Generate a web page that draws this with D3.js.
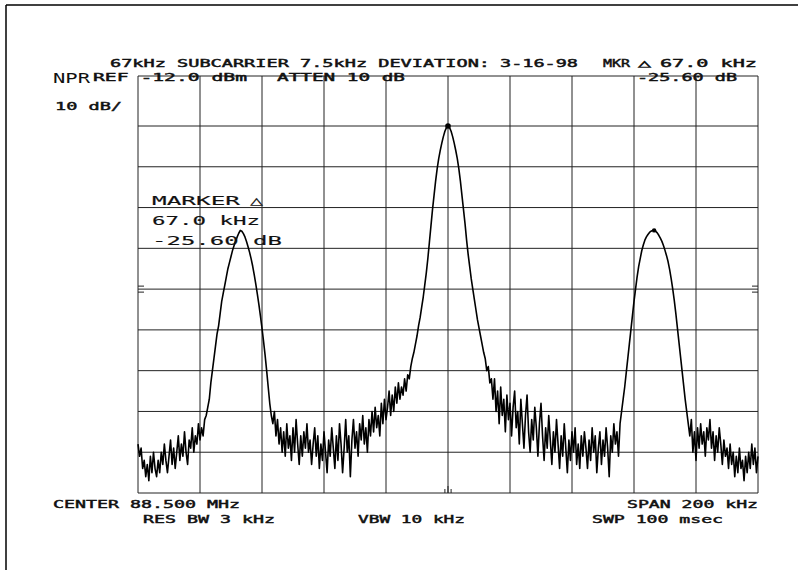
<!DOCTYPE html>
<html>
<head>
<meta charset="utf-8">
<script src="https://cdn.jsdelivr.net/npm/d3@7"></script>
<style>
  html, body { margin: 0; padding: 0; background: #ffffff; }
  svg { display: block; }
  text { font-family: "DejaVu Sans Mono", monospace; fill: #111; }
</style>
</head>
<body>
<div id="chart"></div>
<script>
// Sweep settings (kHz offset from 88.500 MHz, dBm)
const stepKHz = 0.5;
const freqTicks = [-100, -80, -60, -40, -20, 0, 20, 40, 60, 80, 100];
const levelTicks = [-20, -30, -40, -50, -60, -70, -80, -90, -100, -110];

// Trace in pieces, each with its start frequency
const lowEdgeNoise = [
    -98, -101, -99, -104, -102, -106, -103, -107, -101, -105,
    -100, -104, -106, -102, -105, -100, -103, -98, -102, -105,
    -101, -97, -103, -99, -104, -100, -96, -102, -98, -101,
    -95, -100, -103, -97, -99, -94, -100, -96, -98, -93,
    -97, -94, -96, -92
];
const lowerSubcarrier = [
    -91, -89, -87, -83, -80, -77, -74, -71, -69, -66,
    -63, -61, -59, -57, -55, -53.5, -52, -50.5, -49.3, -48.2,
    -47.2, -46.3, -45.6, -45.8, -46.4, -47.2, -48.3, -49.6, -51, -52.6,
    -54.4, -56.5, -58.8, -61.2, -63.8, -66.6, -69.6, -72.8, -76.2, -80,
    -84, -88, -91
];
const lowerGapNoise = [
    -93, -90, -96, -92, -98, -94, -100, -95, -101, -93,
    -99, -96, -102, -94, -100, -92, -98, -103, -96, -101,
    -95, -99, -93, -100, -97, -103, -98, -94, -101, -96,
    -104, -98, -102, -95, -100, -105, -97, -101, -94, -99,
    -104, -96, -102, -93, -98, -105, -99, -92, -100, -96,
    -106, -97, -92, -99, -95, -101, -93, -97, -91, -98,
    -94, -100, -92, -96, -90, -95, -89, -94, -91, -96,
    -88, -93, -87, -92, -89, -85, -91, -86, -90, -84,
    -88, -83, -87
];
const mainCarrier = [
    -84, -86, -82, -85, -81, -82, -79, -77, -75.5, -73.5,
    -71.5, -69, -67, -64.5, -62, -59, -56, -52.5, -48.5, -44.5,
    -40.5, -37, -33.5, -30.5, -28, -26, -24.2, -22.6, -21.3, -20.4,
    -20, -20.4, -21.3, -22.6, -24.2, -26, -28, -30.5, -33.5, -37,
    -40.5, -44, -48, -51.5, -54.5, -57.5, -60, -62.5, -65, -67.5,
    -69.5, -71.5, -73.5, -75.5, -77, -80, -79, -83, -82
];
const upperGapNoise = [
    -87, -82, -90, -85, -93, -84, -91, -87, -95, -86,
    -92, -88, -96, -89, -85, -94, -90, -98, -87, -93,
    -99, -91, -86, -95, -100, -92, -97, -89, -94, -101,
    -93, -88, -96, -102, -94, -99, -91, -97, -103, -95,
    -100, -92, -98, -104, -96, -101, -93, -99, -105, -97,
    -102, -95, -100, -94, -103, -98, -104, -96, -101, -95,
    -99, -104, -97, -102, -94, -100, -96, -105, -99, -95,
    -103, -97, -101, -94, -99, -106, -96, -100, -93, -98,
    -95, -101, -93
];
const upperSubcarrier = [
    -90, -87, -84, -80.5, -77, -73.5, -70, -66.5, -63, -60,
    -57, -54.5, -52.5, -50.6, -49.2, -48, -47.2, -46.6, -46.1, -45.8,
    -45.6, -45.6, -45.8, -46.2, -46.8, -47.5, -48.3, -49.3, -50.5, -51.8,
    -53.3, -55.2, -57.5, -60, -62.8, -66, -69.5, -73, -76.5, -80,
    -83.5, -87, -90, -93
];
const highEdgeNoise = [
    -96, -92, -100, -95, -102, -94, -99, -93, -98, -95,
    -101, -94, -97, -92, -99, -95, -102, -96, -100, -94,
    -98, -103, -97, -101, -99, -104, -98, -103, -100, -106,
    -101, -105, -99, -104, -102, -107, -101, -105, -100, -104,
    -98, -103, -99, -105, -101
];
const traceSegments = [
    { startKHz: -100, values: lowEdgeNoise },
    { startKHz: -78, values: lowerSubcarrier },
    { startKHz: -56.5, values: lowerGapNoise },
    { startKHz: -15, values: mainCarrier },
    { startKHz: 14.5, values: upperGapNoise },
    { startKHz: 56, values: upperSubcarrier },
    { startKHz: 78, values: highEdgeNoise }
];
const markerFreqs = [0, 66.5];
const markerLevels = [-20, -45.6];

const width = 798, height = 570;
const plot = { left: 138, right: 758, top: 76, bottom: 493 };

const svg = d3.select('#chart').append('svg')
    .attr('width', width)
    .attr('height', height);

const x = d3.scaleLinear().domain([-100, 100]).range([plot.left, plot.right]);
const y = d3.scaleLinear().domain([-110, -20]).range([plot.bottom, 126]);

// page frame (scan edge)
svg.append('line')
    .attr('x1', 6).attr('y1', 5).attr('x2', width).attr('y2', 5)
    .attr('stroke', '#000').attr('stroke-width', 1.5);
svg.append('line')
    .attr('x1', 6).attr('y1', 5).attr('x2', 6).attr('y2', height)
    .attr('stroke', '#000').attr('stroke-width', 1.5);

// graticule
const grid = svg.append('g').attr('stroke', '#222').attr('stroke-width', 1);
grid.selectAll('.vline').data(freqTicks).enter().append('line')
    .attr('x1', d => x(d)).attr('x2', d => x(d))
    .attr('y1', plot.top).attr('y2', plot.bottom);
grid.selectAll('.hline').data(levelTicks).enter().append('line')
    .attr('x1', plot.left).attr('x2', plot.right)
    .attr('y1', d => y(d)).attr('y2', d => y(d));
grid.append('line')
    .attr('x1', plot.left).attr('x2', plot.right)
    .attr('y1', plot.top).attr('y2', plot.top);

// small edge marks at the middle line and bottom centre
[-60].forEach(lv => {
    [-3, 3].forEach(dy => {
        grid.append('line').attr('x1', plot.left).attr('x2', plot.left + 6)
            .attr('y1', y(lv) + dy).attr('y2', y(lv) + dy);
        grid.append('line').attr('x1', plot.right - 6).attr('x2', plot.right)
            .attr('y1', y(lv) + dy).attr('y2', y(lv) + dy);
    });
});
[-1, 0, 1].forEach(dk => {
    grid.append('line')
        .attr('x1', x(dk)).attr('x2', x(dk))
        .attr('y1', plot.bottom - (dk === 0 ? 7 : 4)).attr('y2', plot.bottom);
});

// trace
const points = [];
traceSegments.forEach(seg => {
    seg.values.forEach((v, i) => points.push([seg.startKHz + i * stepKHz, v]));
});
const line = d3.line().x(d => x(d[0])).y(d => y(d[1]));
svg.append('path')
    .datum(points)
    .attr('d', line)
    .attr('fill', 'none')
    .attr('stroke', '#000')
    .attr('stroke-width', 1.6)
    .attr('stroke-linejoin', 'round');

// markers
svg.selectAll('.mkr').data(markerFreqs).enter().append('circle')
    .attr('cx', d => x(d))
    .attr('cy', (d, i) => y(markerLevels[i]))
    .attr('r', (d, i) => i === 0 ? 2.8 : 2.2)
    .attr('fill', '#000');

// annotation text, each piece placed and stretched to its printed width
const labels = [
    { t: '67kHz SUBCARRIER 7.5kHz DEVIATION:', x0: 110, x1: 490, y: 67 },
    { t: '3-16-98', x0: 500, x1: 578, y: 67 },
    { t: 'MKR', x0: 603, x1: 630, y: 67 },
    { t: '△', x0: 638, x1: 651, y: 67 },
    { t: '67.0 kHz', x0: 660, x1: 757, y: 67 },
    { t: 'REF -12.0 dBm', x0: 93, x1: 247, y: 81 },
    { t: 'ATTEN 10 dB', x0: 277, x1: 405, y: 81 },
    { t: '-25.60 dB', x0: 637, x1: 737, y: 81 },
    { t: '10 dB/', x0: 55, x1: 122, y: 110 },
    { t: 'MARKER', x0: 152, x1: 240, y: 205 },
    { t: '△', x0: 250, x1: 263, y: 205 },
    { t: '67.0 kHz', x0: 152, x1: 260, y: 225 },
    { t: '-25.60 dB', x0: 152, x1: 282, y: 245 },
    { t: 'CENTER 88.500 MHz', x0: 53, x1: 240, y: 508 },
    { t: 'RES BW 3 kHz', x0: 143, x1: 275, y: 523 },
    { t: 'VBW 10 kHz', x0: 358, x1: 465, y: 523 },
    { t: 'SPAN 200 kHz', x0: 627, x1: 758, y: 508 },
    { t: 'SWP 100 msec', x0: 592, x1: 723, y: 523 }
];
const isBox = d => d.y > 180 && d.y < 250;
svg.selectAll('.lbl').data(labels).enter().append('text')
    .attr('x', d => d.x0)
    .attr('y', d => d.y)
    .attr('font-size', d => isBox(d) ? '13px' : '11px')
    .attr('stroke', '#111')
    .attr('stroke-width', d => isBox(d) ? 0.15 : 0.45)
    .attr('textLength', d => d.x1 - d.x0)
    .attr('lengthAdjust', 'spacingAndGlyphs')
    .text(d => d.t);

svg.append('text')
    .attr('x', 53).attr('y', 83)
    .attr('font-family', '"DejaVu Sans", sans-serif')
    .attr('font-size', '14px')
    .attr('textLength', 37)
    .attr('lengthAdjust', 'spacingAndGlyphs')
    .text('NPR');
</script>
</body>
</html>
